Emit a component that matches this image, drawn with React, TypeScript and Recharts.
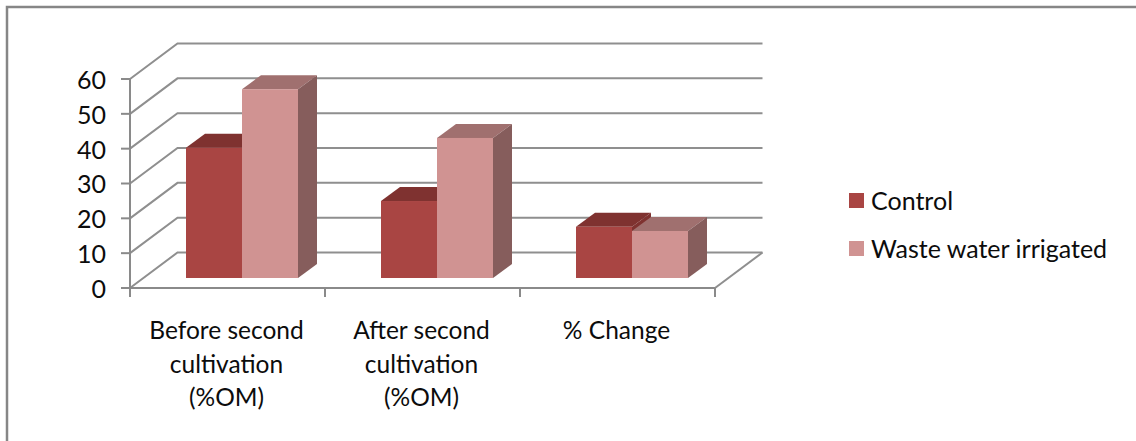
import React from 'react';
import { ComposedChart, Bar, XAxis, YAxis, CartesianGrid, Legend } from 'recharts';

// Organic matter figures per measurement stage
const categories = ['Before second cultivation (%OM)', 'After second cultivation (%OM)', '% Change'];
const categoryLines = [['Before second', 'cultivation', '(%OM)'], ['After second', 'cultivation', '(%OM)'], ['% Change']];
const controlValues = [37.4, 22.1, 14.7];
const irrigatedValues = [54.2, 40.2, 13.5];
const yTicks = [0, 10, 20, 30, 40, 50, 60];

const rows = categories.map((name, i) => ({
  name,
  control: controlValues[i],
  irrigated: irrigatedValues[i],
}));

const FONT = 'Lato, "Open Sans", sans-serif';
const TEXT = '#0c0c0c';
const AXIS = '#8a8a8a';
const GRID = '#8f8f8f';
const FRAME = '#868686';

// Projection of the chart's depth axis
const WALL_DX = 47.5;
const WALL_DY = 35.5;
const BAR_DX = 14;
const BAR_DY = 10;
const BAR_DEPTH_X = 19;
const BAR_DEPTH_Y = 14;

const PLOT_LEFT = 130;
const PLOT_RIGHT = 715;
const PLOT_TOP = 79;
const PLOT_BOTTOM = 288;
const WIDTH = 1136;
const HEIGHT = 441;
const BAND = (PLOT_RIGHT - PLOT_LEFT) / categories.length;

const makeBox = (front: string, top: string, side: string) => (props: any) => {
  const { x, y, width, height } = props;
  const l = x + BAR_DX;
  const r = l + width;
  const t = y - BAR_DY;
  const b = t + height;
  const dx = BAR_DEPTH_X;
  const dy = BAR_DEPTH_Y;
  return (
    <g>
      <polygon points={`${l},${t} ${l + dx},${t - dy} ${r + dx},${t - dy} ${r},${t}`} fill={top} />
      <polygon points={`${r},${t} ${r + dx},${t - dy} ${r + dx},${b - dy} ${r},${b}`} fill={side} />
      <rect x={l} y={t} width={width} height={height} fill={front} />
    </g>
  );
};

// Each value line runs from the front edge, up the side wall and along the back wall
const gridLine = (props: any) => {
  const { x1, x2, y1, index } = props;
  const isFloor = Math.abs(y1 - PLOT_BOTTOM) < 1;
  return (
    <g key={`wall-${index}`}>
      <polyline
        points={`${x1},${y1} ${x1 + WALL_DX},${y1 - WALL_DY} ${x2 + WALL_DX},${y1 - WALL_DY}`}
        fill="none"
        stroke={GRID}
        strokeWidth={2}
      />
      {isFloor && (
        <line x1={x2} y1={y1} x2={x2 + WALL_DX} y2={y1 - WALL_DY} stroke={GRID} strokeWidth={2} />
      )}
    </g>
  );
};

const CategoryTick = (props: any) => {
  const { x, index } = props;
  const lines = categoryLines[index] ?? [];
  const left = x - BAND / 2;
  return (
    <g>
      <line x1={left} y1={PLOT_BOTTOM} x2={left} y2={PLOT_BOTTOM + 9} stroke={AXIS} strokeWidth={2} />
      {index === categories.length - 1 && (
        <line x1={left + BAND} y1={PLOT_BOTTOM} x2={left + BAND} y2={PLOT_BOTTOM + 9} stroke={AXIS} strokeWidth={2} />
      )}
      {lines.map((line, i) => (
        <text key={line} x={x - 1} y={PLOT_BOTTOM + 51 + i * 33.5} textAnchor="middle" fontFamily={FONT} fontSize={24.5} fill={TEXT}>
          {line}
        </text>
      ))}
    </g>
  );
};

const LegendBox = (props: any) => (
  <div style={{ paddingLeft: 134, fontFamily: FONT, fontSize: 25, color: TEXT }}>
    {(props.payload ?? []).map((entry: any) => (
      <div key={entry.value} style={{ display: 'flex', alignItems: 'center', height: 48 }}>
        <span style={{ width: 15, height: 15, background: entry.color, marginRight: 7, display: 'inline-block' }} />
        <span>{entry.value}</span>
      </div>
    ))}
  </div>
);

export default function App() {
  return (
    <div style={{ width: WIDTH, height: HEIGHT, background: '#fff' }}>
      <style>{'html,body{margin:0;padding:0}'}</style>
      <ComposedChart
        width={WIDTH}
        height={HEIGHT}
        data={rows}
        barSize={56}
        barGap={0}
        margin={{ top: PLOT_TOP, right: 0, bottom: 0, left: 0 }}
      >
        {/* Chart-area frame: only the top and left edges fall inside the page */}
        <polyline points={`7,${HEIGHT} 7,7 ${WIDTH},7`} fill="none" stroke={FRAME} strokeWidth={2.5} />
        <CartesianGrid vertical={false} horizontal={gridLine} syncWithTicks />
        <XAxis
          dataKey="name"
          height={HEIGHT - PLOT_BOTTOM}
          interval={0}
          axisLine={{ stroke: AXIS, strokeWidth: 2 }}
          tickLine={false}
          tick={CategoryTick}
        />
        <YAxis
          width={PLOT_LEFT}
          domain={[0, 60]}
          ticks={yTicks}
          interval={0}
          tickSize={9}
          tickMargin={15}
          axisLine={{ stroke: AXIS, strokeWidth: 2 }}
          tickLine={{ stroke: AXIS, strokeWidth: 2 }}
          tick={{ fontFamily: FONT, fontSize: 25, fill: TEXT, dy: 1 }}
        />
        <Legend
          layout="vertical"
          align="right"
          verticalAlign="top"
          width={WIDTH - PLOT_RIGHT}
          wrapperStyle={{ top: 176 }}
          content={LegendBox}
        />
        <Bar
          dataKey="control"
          name="Control"
          fill="#a94543"
          isAnimationActive={false}
          shape={makeBox('#a94543', '#7f3230', '#7f3230')}
        />
        <Bar
          dataKey="irrigated"
          name="Waste water irrigated"
          fill="#d09392"
          isAnimationActive={false}
          shape={makeBox('#d09392', '#a0706f', '#865d5c')}
        />
      </ComposedChart>
    </div>
  );
}
